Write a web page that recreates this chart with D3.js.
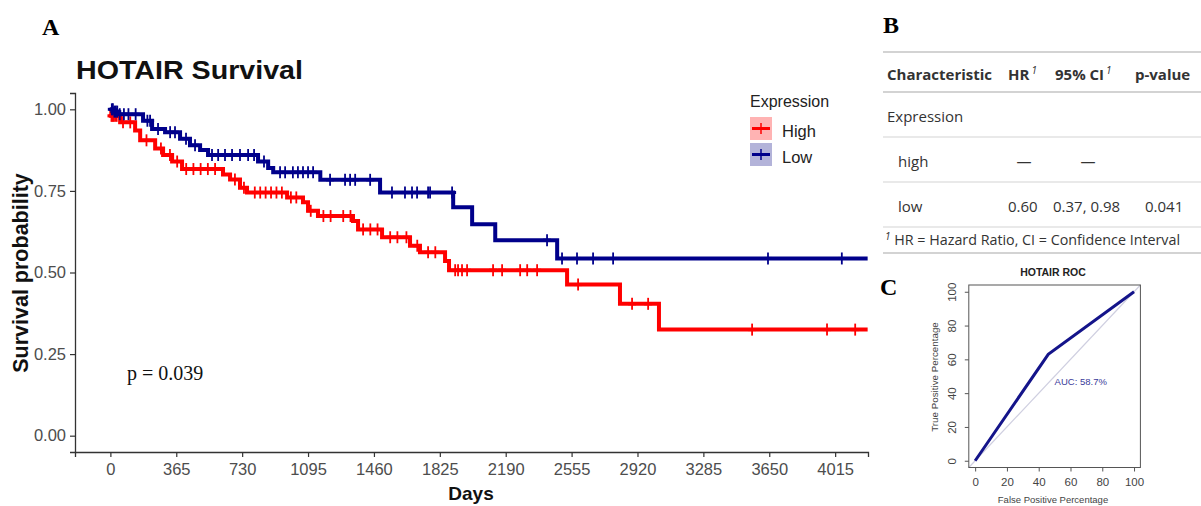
<!DOCTYPE html>
<html>
<head>
<meta charset="utf-8">
<script src="https://cdn.jsdelivr.net/npm/d3@7"></script>
<style>
  html, body { margin: 0; padding: 0; background: #fff; }
  svg { display: block; }
</style>
</head>
<body>
<svg id="chart" width="1201" height="506"></svg>
<script>
// ---------------- DATA ----------------
const groups = ["High", "Low"];
const highTimes = [0, 5, 54, 137, 165, 248, 292, 342, 397, 624, 663, 718, 757, 979, 1067, 1095, 1150, 1344, 1372, 1505, 1660, 1715, 1854, 1876, 2530, 2823, 3039];
const highSurv  = [1.0, 0.98, 0.96, 0.935, 0.905, 0.88, 0.86, 0.84, 0.817, 0.80, 0.785, 0.76, 0.745, 0.73, 0.715, 0.689, 0.673, 0.658, 0.632, 0.608, 0.582, 0.562, 0.535, 0.507, 0.463, 0.404, 0.325];
const highCensor = [6, 12, 18, 26, 35, 70, 110, 200, 280, 330, 370, 420, 460, 500, 540, 580, 690, 740, 800, 830, 860, 890, 920, 950, 1000, 1030, 1110, 1180, 1220, 1290, 1330, 1400, 1440, 1480, 1550, 1590, 1640, 1700, 1760, 1800, 1910, 1926, 1948, 1976, 2120, 2170, 2270, 2309, 2364, 2591, 2890, 2979, 3555, 3970, 4126];
const lowTimes = [0, 20, 43, 181, 231, 303, 386, 441, 497, 541, 818, 874, 902, 1163, 1494, 1899, 2004, 2132, 2475];
const lowSurv  = [1.0, 0.993, 0.985, 0.965, 0.94, 0.93, 0.91, 0.89, 0.875, 0.86, 0.84, 0.82, 0.807, 0.784, 0.745, 0.70, 0.648, 0.599, 0.543];
const lowCensor = [8, 14, 22, 30, 38, 52, 75, 100, 140, 205, 220, 264, 331, 358, 419, 469, 563, 597, 635, 674, 718, 763, 796, 851, 940, 968, 1011, 1039, 1067, 1095, 1123, 1217, 1300, 1328, 1356, 1439, 1560, 1632, 1671, 1699, 1760, 1771, 1893, 2419, 2502, 2585, 2674, 2785, 3643, 4052];
const followUpEnd = 4195;
const xTicks = [0, 365, 730, 1095, 1460, 1825, 2190, 2555, 2920, 3285, 3650, 4015];
const yTicks = [0, 0.25, 0.5, 0.75, 1.0];
const pValueText = "p = 0.039";

const tableHeader = ["Characteristic", "HR", "95% CI", "p-value"];
const tableRows = [
  ["Expression", "", "", ""],
  ["high", "—", "—", ""],
  ["low", "0.60", "0.37, 0.98", "0.041"]
];
const tableFootnote = "HR = Hazard Ratio, CI = Confidence Interval";

const rocFPR = [0, 46, 100];
const rocTPR = [0, 63, 100];
const rocTicks = [0, 20, 40, 60, 80, 100];
const aucText = "AUC: 58.7%";

// ---------------- DRAW ----------------
const svg = d3.select("#chart");
svg.append("rect").attr("width", 1201).attr("height", 506).attr("fill", "#fff");

const colors = { High: "#FF0000", Low: "#00008B" };
const keyFill = { High: "#FFB3B3", Low: "#B3B3D9" };

// Panel A
const x = d3.scaleLinear().domain([-196, 4197]).range([75, 868]);
const y = d3.scaleLinear().domain([-0.05, 1.05]).range([452, 93]);

svg.append("text").attr("x", 42).attr("y", 35).text("A")
  .attr("font-family", "Liberation Serif, Times New Roman, serif").attr("font-weight", "bold").attr("font-size", 24);

svg.append("text").attr("x", 76).attr("y", 79).text("HOTAIR Survival")
  .attr("font-family", "Liberation Sans, Arial, sans-serif").attr("font-weight", "bold").attr("font-size", 25)
  .attr("textLength", 227).attr("lengthAdjust", "spacingAndGlyphs").attr("fill", "#111");

const xAxis = svg.append("g").attr("transform", "translate(0,452)")
  .call(d3.axisBottom(x).tickValues(xTicks).tickSize(5).tickPadding(6).tickFormat(d3.format("d")));
const yAxis = svg.append("g").attr("transform", "translate(75,0)")
  .call(d3.axisLeft(y).tickValues(yTicks).tickSize(5).tickPadding(4).tickFormat(d3.format(".2f")));
[xAxis, yAxis].forEach(g => {
  g.select(".domain").attr("stroke", "#333").attr("stroke-width", 1.3);
  g.selectAll(".tick line").attr("stroke", "#333").attr("stroke-width", 1.2);
  g.selectAll(".tick text").attr("fill", "#4d4d4d")
    .attr("font-family", "Liberation Sans, Arial, sans-serif").attr("font-size", 16.5);
});

svg.append("text").attr("x", 471).attr("y", 500).attr("text-anchor", "middle").text("Days")
  .attr("font-family", "Liberation Sans, Arial, sans-serif").attr("font-weight", "bold").attr("font-size", 19).attr("fill", "#111");
svg.append("text").attr("transform", "translate(28,273) rotate(-90)").attr("text-anchor", "middle")
  .text("Survival probability")
  .attr("font-family", "Liberation Sans, Arial, sans-serif").attr("font-weight", "bold").attr("font-size", 21.5).attr("fill", "#111");

svg.append("text").attr("x", 127).attr("y", 380).text(pValueText)
  .attr("font-family", "Liberation Serif, Times New Roman, serif").attr("font-size", 20).attr("fill", "#111");

function stepPoints(times, surv) {
  const pts = times.map((t, i) => [t, surv[i]]);
  pts.push([followUpEnd, surv[surv.length - 1]]);
  return pts;
}
function survAt(times, surv, t) {
  let s = surv[0];
  for (let i = 0; i < times.length; i++) { if (times[i] <= t) s = surv[i]; }
  return s;
}
const line = d3.line().x(d => x(d[0])).y(d => y(d[1])).curve(d3.curveStepAfter);

const series = [
  { name: "High", times: highTimes, surv: highSurv, censor: highCensor },
  { name: "Low", times: lowTimes, surv: lowSurv, censor: lowCensor }
];
series.forEach(s => {
  svg.append("path").attr("d", line(stepPoints(s.times, s.surv)))
    .attr("fill", "none").attr("stroke", colors[s.name]).attr("stroke-width", 4);
  const g = svg.append("g");
  s.censor.forEach(t => {
    const cx = x(t), cy = y(survAt(s.times, s.surv, t));
    g.append("line").attr("x1", cx).attr("x2", cx).attr("y1", cy - 6).attr("y2", cy + 6)
      .attr("stroke", colors[s.name]).attr("stroke-width", 1.8);
    g.append("line").attr("x1", cx - 4).attr("x2", cx + 4).attr("y1", cy).attr("y2", cy)
      .attr("stroke", colors[s.name]).attr("stroke-width", 3);
  });
});

// Legend
const lg = svg.append("g");
lg.append("text").attr("x", 750).attr("y", 107).text("Expression")
  .attr("font-family", "Liberation Sans, Arial, sans-serif").attr("font-size", 16).attr("fill", "#222");
groups.forEach((gname, i) => {
  const ky = 117 + i * 26;
  lg.append("rect").attr("x", 750).attr("y", ky).attr("width", 22).attr("height", 23).attr("fill", keyFill[gname]);
  lg.append("line").attr("x1", 752).attr("x2", 770).attr("y1", ky + 11.5).attr("y2", ky + 11.5)
    .attr("stroke", colors[gname]).attr("stroke-width", 3);
  lg.append("line").attr("x1", 761).attr("x2", 761).attr("y1", ky + 6).attr("y2", ky + 17)
    .attr("stroke", colors[gname]).attr("stroke-width", 1.5);
  lg.append("text").attr("x", 782).attr("y", ky + 20).text(gname)
    .attr("font-family", "Liberation Sans, Arial, sans-serif").attr("font-size", 16.5).attr("fill", "#222");
});

// Panel B (table)
svg.append("text").attr("x", 883).attr("y", 33).text("B")
  .attr("font-family", "Liberation Serif, Times New Roman, serif").attr("font-weight", "bold").attr("font-size", 24);
const tfont = "Open Sans, Noto Sans, sans-serif";
const lineYs = [52, 92, 137, 182, 227, 253];
lineYs.forEach((ly, i) => {
  svg.append("line").attr("x1", 883).attr("x2", 1201).attr("y1", ly).attr("y2", ly)
    .attr("stroke", "#d3d3d3").attr("stroke-width", (i === 0 || i === 1 || i === 5) ? 2.2 : 1.2);
});
const colX = [887, 1008, 1055, 1135];
const hdr = svg.append("g").attr("font-family", tfont).attr("font-weight", "bold").attr("font-size", 15).attr("fill", "#333");
tableHeader.forEach((h, i) => {
  const t = hdr.append("text").attr("x", colX[i]).attr("y", 80);
  t.append("tspan").text(h);
  if (i === 1 || i === 2) {
    t.append("tspan").text("1").attr("font-size", 10).attr("font-style", "italic").attr("font-weight", "normal").attr("dy", -6).attr("dx", 2);
  }
});
const rowY = [122, 167, 212];
const valX = [[887, null, null, null], [898, 1024, 1088, null], [898, 1008, 1053, 1145]];
tableRows.forEach((r, ri) => {
  r.forEach((v, ci) => {
    if (!v) return;
    const anchor = (v === "—") ? "middle" : "start";
    svg.append("text").attr("x", valX[ri][ci]).attr("y", rowY[ri]).attr("text-anchor", anchor).text(v)
      .attr("font-family", tfont).attr("font-size", 15).attr("fill", "#333");
  });
});
const fn = svg.append("text").attr("x", 885).attr("y", 245).attr("font-family", tfont).attr("font-size", 14.3).attr("fill", "#333");
fn.append("tspan").text("1").attr("font-size", 10).attr("font-style", "italic").attr("dy", -5);
fn.append("tspan").text(" " + tableFootnote).attr("dy", 5);

// Panel C (ROC)
svg.append("text").attr("x", 880).attr("y", 295).text("C")
  .attr("font-family", "Liberation Serif, Times New Roman, serif").attr("font-weight", "bold").attr("font-size", 24);
const rx = d3.scaleLinear().domain([-4, 104]).range([968.8, 1140.4]);
const ry = d3.scaleLinear().domain([-4, 104]).range([467.5, 285]);
const rfont = "Liberation Sans, Arial, sans-serif";
svg.append("text").attr("x", 1053).attr("y", 276).attr("text-anchor", "middle").text("HOTAIR ROC")
  .attr("font-family", rfont).attr("font-weight", "bold").attr("font-size", 10.5).attr("fill", "#222");
svg.append("line").attr("x1", rx(-4)).attr("y1", ry(-4)).attr("x2", rx(104)).attr("y2", ry(104))
  .attr("stroke", "#cfcfe0").attr("stroke-width", 1.2);
svg.append("rect").attr("x", rx(-4)).attr("y", ry(104)).attr("width", rx(104) - rx(-4)).attr("height", ry(-4) - ry(104))
  .attr("fill", "none").attr("stroke", "#555").attr("stroke-width", 1);
const rxAxis = svg.append("g").attr("transform", `translate(0,${ry(-4)})`)
  .call(d3.axisBottom(rx).tickValues(rocTicks).tickSize(4).tickPadding(6));
const ryAxis = svg.append("g").attr("transform", `translate(${rx(-4)},0)`)
  .call(d3.axisLeft(ry).tickValues(rocTicks).tickSize(4).tickPadding(5));
[rxAxis, ryAxis].forEach(g => {
  g.select(".domain").remove();
  g.selectAll(".tick line").attr("stroke", "#555");
  g.selectAll(".tick text").attr("fill", "#444").attr("font-family", rfont).attr("font-size", 11.5);
});
ryAxis.selectAll(".tick text").attr("transform", function () {
  return "rotate(-90," + (-9 - 4) + ",0)";
}).attr("x", -13).attr("dy", "0").attr("text-anchor", "middle");
svg.append("text").attr("x", 1053).attr("y", 503).attr("text-anchor", "middle").text("False Positive Percentage")
  .attr("font-family", rfont).attr("font-size", 9.5).attr("fill", "#444");
svg.append("text").attr("transform", "translate(938,377) rotate(-90)").attr("text-anchor", "middle")
  .text("True Positive Percentage")
  .attr("font-family", rfont).attr("font-size", 9.8).attr("fill", "#444");
const rocLine = d3.line().x((d, i) => rx(rocFPR[i])).y((d, i) => ry(rocTPR[i]));
svg.append("path").attr("d", rocLine(rocFPR)).attr("fill", "none").attr("stroke", "#14148a").attr("stroke-width", 3);
svg.append("text").attr("x", rx(50)).attr("y", 385).text(aucText)
  .attr("font-family", rfont).attr("font-size", 9.5).attr("fill", "#3a3a9a");
</script>
</body>
</html>
